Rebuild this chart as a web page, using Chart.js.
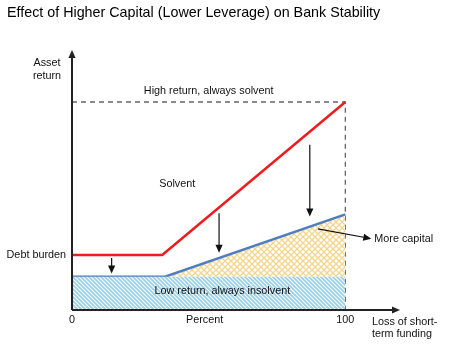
<!DOCTYPE html>
<html>
<head>
<meta charset="utf-8">
<script src="https://cdn.jsdelivr.net/npm/chart.js@4"></script>
<style>
  html, body { margin: 0; padding: 0; background: #fff; }
  canvas { display: block; }
</style>
</head>
<body>
<canvas id="chart" width="450" height="348"></canvas>
<script>
// Данные схемы (x — потеря краткосрочного финансирования, %, y — доходность активов)
const chartTitle = 'Effect of Higher Capital (Lower Leverage) on Bank Stability';
const debtBurden = [{x: 0, y: 26.5}, {x: 33, y: 26.5}, {x: 100, y: 100}];
const moreCapital = [{x: 0, y: 16}, {x: 34, y: 16}, {x: 100, y: 46}];
const insolventFloor = [{x: 0, y: 16}, {x: 34, y: 16}, {x: 100, y: 16}];
const solventBound = [{x: 0, y: 100}, {x: 100, y: 100}, {x: 100, y: 0}];

// Подписи областей
const regionLabels = [
    {text: 'High return, always solvent', x: 50, y: 105.5},
    {text: 'Solvent', x: 38.5, y: 60.5},
    {text: 'Low return, always insolvent', x: 55, y: 9}
];
const tickLabels = [{value: 0, text: '0'}, {value: 100, text: '100'}];
const xAxisTitle = {text: 'Percent', value: 48.5};
const xAxisName = ['Loss of short-', 'term funding'];
const yAxisName = ['Asset', 'return'];
const debtLabel = 'Debt burden';

// Стрелки сдвига вниз: x, откуда, куда
const shiftArrows = [
    {x: 14.5, from: 25, to: 17.5},
    {x: 53.8, from: 46.5, to: 27.5},
    {x: 87, from: 79.5, to: 45}
];
const capitalPointer = {text: 'More capital', from: {x: 90, y: 39}, to: {x: 109.5, y: 34.3}};

function makePattern(size, draw) {
    const c = document.createElement('canvas');
    c.width = size;
    c.height = size;
    const g = c.getContext('2d');
    g.fillStyle = '#ffffff';
    g.fillRect(0, 0, size, size);
    draw(g);
    return g.createPattern(c, 'repeat');
}

// Штриховка "\\\" голубая
const blueHatch = makePattern(4, g => {
    g.strokeStyle = '#98cfe8';
    g.lineWidth = 1.7;
    g.beginPath();
    g.moveTo(-1, -1); g.lineTo(5, 5);
    g.moveTo(-1, 3); g.lineTo(1, 5);
    g.moveTo(3, -1); g.lineTo(5, 1);
    g.stroke();
});

// Жёлтая сетка
const yellowHatch = makePattern(6, g => {
    g.strokeStyle = '#f3d68c';
    g.lineWidth = 1.3;
    g.beginPath();
    g.moveTo(0, 0); g.lineTo(6, 6);
    g.moveTo(6, 0); g.lineTo(0, 6);
    g.stroke();
});

function arrow(g, x1, y1, x2, y2, head) {
    const a = Math.atan2(y2 - y1, x2 - x1);
    g.beginPath();
    g.moveTo(x1, y1);
    g.lineTo(x2 - Math.cos(a) * head * 0.8, y2 - Math.sin(a) * head * 0.8);
    g.stroke();
    g.beginPath();
    g.moveTo(x2, y2);
    g.lineTo(x2 - head * Math.cos(a) + head * 0.45 * Math.sin(a), y2 - head * Math.sin(a) - head * 0.45 * Math.cos(a));
    g.lineTo(x2 - head * Math.cos(a) - head * 0.45 * Math.sin(a), y2 - head * Math.sin(a) + head * 0.45 * Math.cos(a));
    g.closePath();
    g.fill();
}

const decorations = {
    id: 'decorations',
    afterDatasetsDraw(chart) {
        const g = chart.ctx;
        const xs = chart.scales.x;
        const ys = chart.scales.y;
        const px = v => xs.getPixelForValue(v);
        const py = v => ys.getPixelForValue(v);
        const left = px(0);
        const bottom = py(0);
        g.save();

        // Оси со стрелками
        g.strokeStyle = '#222';
        g.fillStyle = '#222';
        g.lineWidth = 2;
        arrow(g, left, bottom, left, chart.chartArea.top, 8);
        arrow(g, left, bottom, chart.chartArea.right, bottom, 8);

        // Стрелки сдвига
        g.lineWidth = 1.2;
        g.strokeStyle = '#111';
        g.fillStyle = '#111';
        shiftArrows.forEach(a => arrow(g, px(a.x), py(a.from), px(a.x), py(a.to), 8));
        arrow(g, px(capitalPointer.from.x), py(capitalPointer.from.y),
            px(capitalPointer.to.x), py(capitalPointer.to.y), 8);

        // Подписи
        g.fillStyle = '#111';
        g.font = '10.8px "Liberation Sans", Arial, sans-serif';
        g.textBaseline = 'middle';
        g.textAlign = 'center';
        regionLabels.forEach(l => g.fillText(l.text, px(l.x), py(l.y)));
        tickLabels.forEach(t => g.fillText(t.text, px(t.value), bottom + 10));
        g.fillText(xAxisTitle.text, px(xAxisTitle.value), bottom + 10);
        yAxisName.forEach((t, i) => g.fillText(t, left - 25, chart.chartArea.top + 13 + i * 13));

        g.textAlign = 'right';
        g.fillText(debtLabel, left - 6, py(debtBurden[0].y));

        g.textAlign = 'left';
        xAxisName.forEach((t, i) => g.fillText(t, chart.chartArea.right - 28, bottom + 12 + i * 12));
        g.fillText(capitalPointer.text, px(capitalPointer.to.x) + 3, py(capitalPointer.to.y) + 0.5);

        // Заголовок
        g.font = '14.3px "Liberation Sans", Arial, sans-serif';
        g.fillStyle = '#000';
        g.textBaseline = 'middle';
        g.fillText(chartTitle, 7, 13);
        g.restore();
    }
};

new Chart(document.getElementById('chart'), {
    type: 'line',
    data: {
        datasets: [
            {
                data: insolventFloor,
                borderWidth: 0,
                borderColor: 'rgba(0,0,0,0)',
                backgroundColor: blueHatch,
                fill: 'origin',
                pointRadius: 0
            },
            {
                data: moreCapital,
                borderColor: '#4f7dbf',
                borderWidth: 2.5,
                backgroundColor: yellowHatch,
                fill: 0,
                pointRadius: 0
            },
            {
                data: debtBurden,
                borderColor: '#ee1c1c',
                borderWidth: 2.5,
                fill: false,
                pointRadius: 0
            },
            {
                data: solventBound,
                borderColor: '#666',
                borderWidth: 1.3,
                borderDash: [5, 4],
                fill: false,
                pointRadius: 0
            }
        ]
    },
    options: {
        responsive: false,
        animation: false,
        layout: {padding: {left: 72, right: 50, top: 50, bottom: 38}},
        datasets: {line: {clip: false, tension: 0}},
        scales: {
            x: {type: 'linear', min: 0, max: 120, display: false},
            y: {type: 'linear', min: 0, max: 125, display: false}
        },
        plugins: {
            legend: {display: false},
            tooltip: {enabled: false},
            title: {display: false}
        }
    },
    plugins: [decorations]
});
</script>
</body>
</html>
